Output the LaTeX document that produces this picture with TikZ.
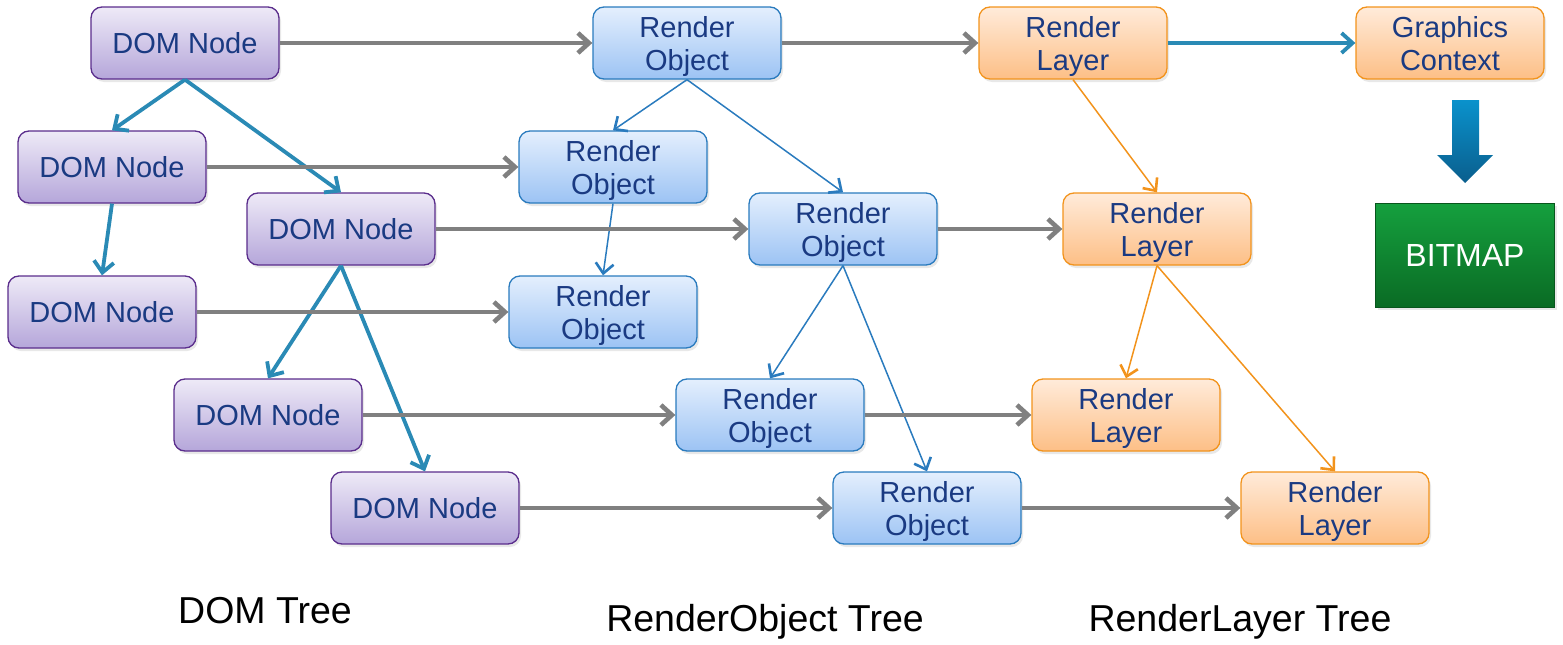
\documentclass[tikz,border=0pt]{standalone}
\usepackage{fontspec}
\setmainfont{Liberation Sans}
\usetikzlibrary{arrows.meta,shadows}

\definecolor{domtop}{HTML}{EEEAF7}
\definecolor{dombot}{HTML}{B5A6DA}
\definecolor{domline}{HTML}{5A2D8C}
\definecolor{robjtop}{HTML}{E4EFFD}
\definecolor{robjbot}{HTML}{9CC3F4}
\definecolor{robjline}{HTML}{2A7BBE}
\definecolor{rlaytop}{HTML}{FFEBDA}
\definecolor{rlaybot}{HTML}{FDBF86}
\definecolor{rlayline}{HTML}{F2931C}
\definecolor{labelblue}{HTML}{1A3A82}
\definecolor{treeblue}{HTML}{2A8AB5}
\definecolor{linkgray}{HTML}{808080}
\definecolor{bmtop}{HTML}{15A03E}
\definecolor{bmbot}{HTML}{0A6B24}
\definecolor{bigtop}{HTML}{0A92CC}
\definecolor{bigbot}{HTML}{0A5E8D}

\tikzset{
    box/.style={rectangle, rounded corners=11pt, minimum width=188pt, minimum height=72pt,
        line width=1.3pt, align=center, text=labelblue, text depth=0pt,
        font=\fontsize{29}{33}\selectfont,
        drop shadow={opacity=0.18, shadow xshift=2pt, shadow yshift=-3pt}},
    dombox/.style={box, draw=domline, top color=domtop, bottom color=dombot},
    robjbox/.style={box, draw=robjline, top color=robjtop, bottom color=robjbot},
    rlaybox/.style={box, draw=rlayline, top color=rlaytop, bottom color=rlaybot},
    treelabel/.style={anchor=base, font=\fontsize{37.5}{41}\selectfont},
    domedge/.style={draw=treeblue, line width=3.8pt, -{Straight Barb[length=11pt, width=20pt, line width=3.8pt]}},
    linkedge/.style={draw=linkgray, line width=4.6pt, -{Straight Barb[length=11pt, width=20pt, line width=4.6pt]}},
    robjedge/.style={draw=robjline, line width=1.5pt, -{Straight Barb[length=10pt, width=18pt, line width=2.6pt]}},
    rlayedge/.style={draw=rlayline, line width=1.5pt, -{Straight Barb[length=10pt, width=18pt, line width=2.6pt]}}
}

\begin{document}
\begin{tikzpicture}[x=1pt, y=-1pt]
        \useasboundingbox (0,0) rectangle (1563,645);

        \node[dombox] (dom1) at (185,43) {DOM Node};
        \node[dombox] (dom2) at (112,167) {DOM Node};
        \node[dombox] (dom3) at (341,229) {DOM Node};
        \node[dombox] (dom4) at (102,312) {DOM Node};
        \node[dombox] (dom5) at (268,415) {DOM Node};
        \node[dombox] (dom6) at (425,508) {DOM Node};

        \node[robjbox] (robj1) at (687,43) {Render\\Object};
        \node[robjbox] (robj2) at (613,167) {Render\\Object};
        \node[robjbox] (robj3) at (843,229) {Render\\Object};
        \node[robjbox] (robj4) at (603,312) {Render\\Object};
        \node[robjbox] (robj5) at (770,415) {Render\\Object};
        \node[robjbox] (robj6) at (927,508) {Render\\Object};

        \node[rlaybox] (rlay1) at (1073,43) {Render\\Layer};
        \node[rlaybox] (rlay2) at (1157,229) {Render\\Layer};
        \node[rlaybox] (rlay3) at (1126,415) {Render\\Layer};
        \node[rlaybox] (rlay4) at (1335,508) {Render\\Layer};

        \node[rlaybox] (gctx) at (1450,43) {Graphics\\Context};

        \node[rectangle, minimum width=179pt, minimum height=104pt, draw=bmbot!80!black, line width=0.8pt,
            top color=bmtop, bottom color=bmbot, text=white, font=\fontsize{32}{36}\selectfont,
            drop shadow={opacity=0.18, shadow xshift=2pt, shadow yshift=-3pt}] (bitmap) at (1465,255) {BITMAP};

        \shade[top color=bigtop, bottom color=bigbot]
            (1452,100) -- (1479,100) -- (1479,155) -- (1493,155) -- (1465,183) -- (1437,155) -- (1452,155) -- cycle;

        \foreach \a/\b in {dom1/dom2, dom1/dom3, dom2/dom4, dom3/dom5, dom3/dom6}
            \draw[domedge] (\a.south) -- (\b.north);

        \foreach \a/\b in {robj1/robj2, robj1/robj3, robj2/robj4, robj3/robj5, robj3/robj6}
            \draw[robjedge] (\a.south) -- (\b.north);

        \foreach \a/\b in {rlay1/rlay2, rlay2/rlay3, rlay2/rlay4}
            \draw[rlayedge] (\a.south) -- (\b.north);

        \foreach \a/\b in {dom1/robj1, dom2/robj2, dom3/robj3, dom4/robj4, dom5/robj5, dom6/robj6,
            robj1/rlay1, robj3/rlay2, robj5/rlay3, robj6/rlay4}
            \draw[linkedge] (\a.east) -- (\b.west);

        \draw[domedge] (rlay1.east) -- (gctx.west);

        \node[treelabel] (domtree) at (265,623) {DOM Tree};
        \node[treelabel] (robjtree) at (765,631) {RenderObject Tree};
        \node[treelabel] (rlaytree) at (1240,631) {RenderLayer Tree};
    \end{tikzpicture}
\end{document}
